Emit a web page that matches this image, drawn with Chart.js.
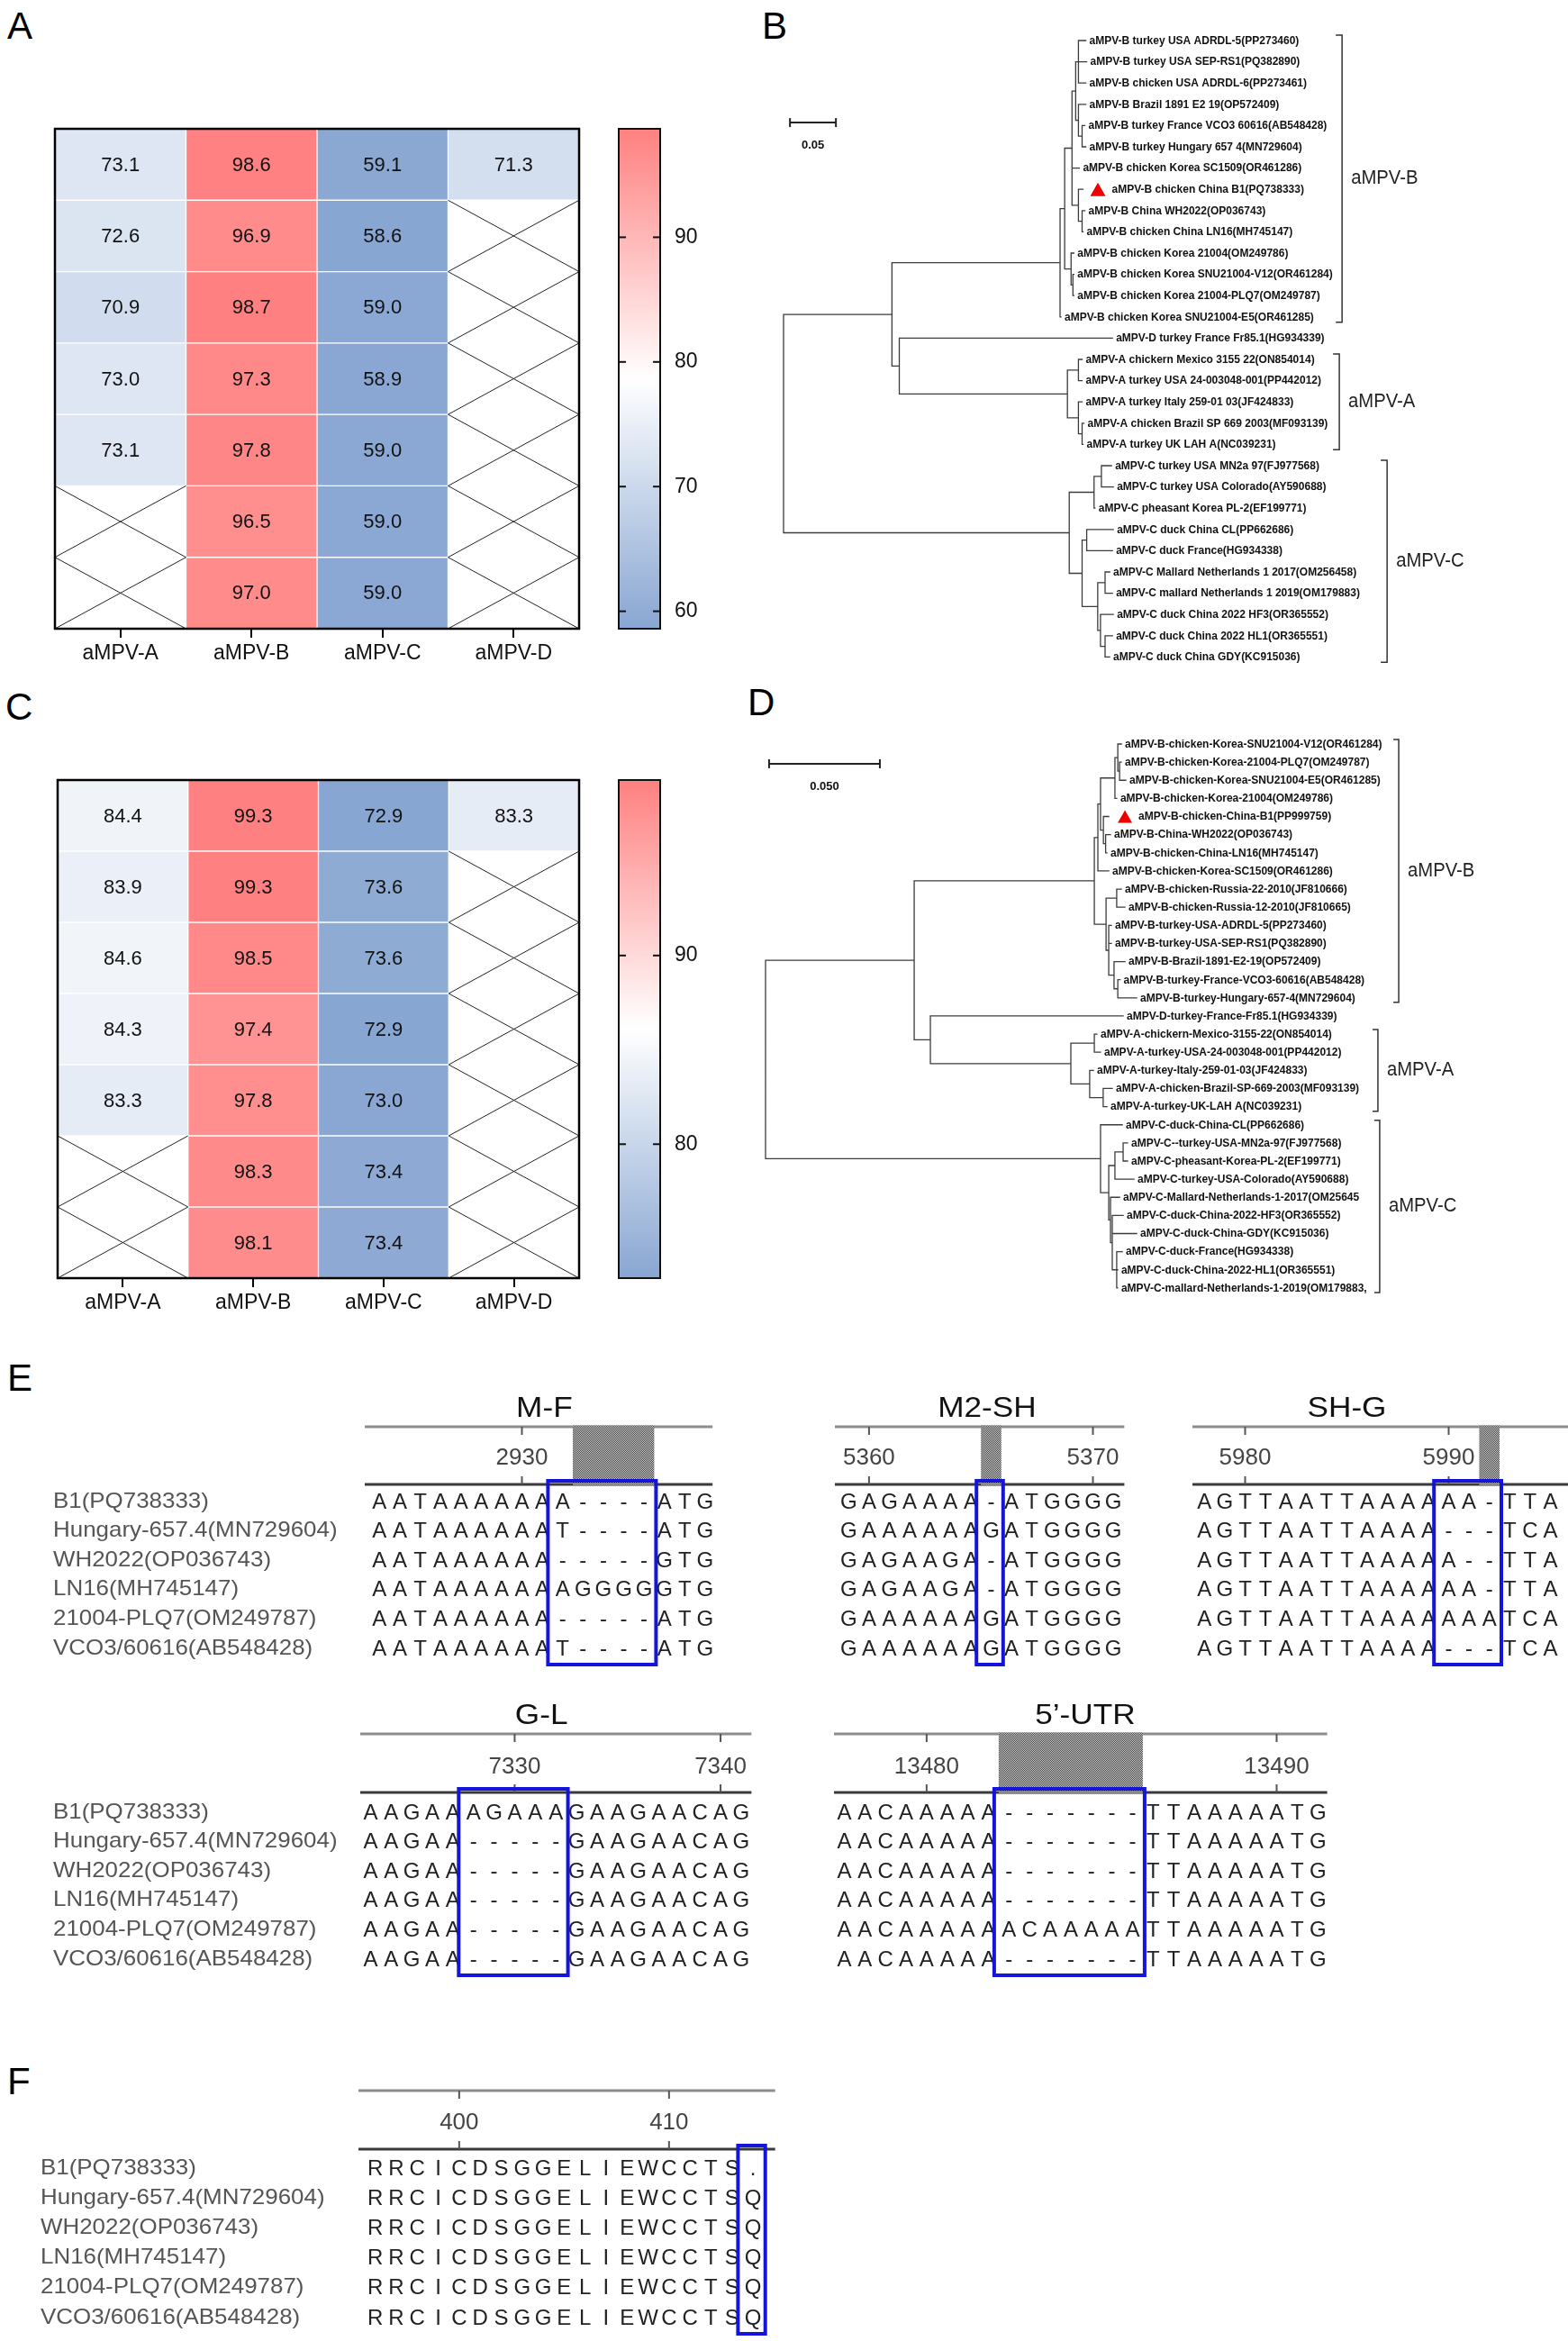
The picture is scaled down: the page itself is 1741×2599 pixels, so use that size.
<!DOCTYPE html>
<html>
<head>
<meta charset="utf-8">
<script src="https://cdn.jsdelivr.net/npm/chart.js@4.4.1/dist/chart.umd.min.js"></script>
<style>
  html, body { margin: 0; padding: 0; background: #fff; }
  #page { position: relative; width: 1741px; height: 2599px; overflow: hidden; font-family: 'Liberation Sans', Arial, sans-serif; }
  .box { position: absolute; }
  .tag { position: absolute; font-size: 42px; line-height: 1; color: #000; }
</style>
</head>
<body>
<div id="page">
  <div class="tag" style="left:8px;top:8px">A</div>
  <div class="tag" style="left:846px;top:8px">B</div>
  <div class="tag" style="left:6px;top:764px">C</div>
  <div class="tag" style="left:830px;top:759px">D</div>
  <div class="tag" style="left:8px;top:1509px">E</div>
  <div class="tag" style="left:8px;top:2290px">F</div>
</div>
<script>
const FONT = "'Liberation Sans', Arial, sans-serif";

// ---------- A / C : identity heatmaps (one array per column, rows top to bottom)
const hmCols = ['aMPV-A', 'aMPV-B', 'aMPV-C', 'aMPV-D'];
const aColA = [73.1, 72.6, 70.9, 73.0, 73.1, null, null];
const aColB = [98.6, 96.9, 98.7, 97.3, 97.8, 96.5, 97.0];
const aColC = [59.1, 58.6, 59.0, 58.9, 59.0, 59.0, 59.0];
const aColD = [71.3, null, null, null, null, null, null];
const aBarTicks = [60, 70, 80, 90];

const cColA = [84.4, 83.9, 84.6, 84.3, 83.3, null, null];
const cColB = [99.3, 99.3, 98.5, 97.4, 97.8, 98.3, 98.1];
const cColC = [72.9, 73.6, 73.6, 72.9, 73.0, 73.4, 73.4];
const cColD = [83.3, null, null, null, null, null, null];
const cBarTicks = [80, 90];

// ---------- B : tree (tips top to bottom, tip depth, nested nodes [depth, children...])
const bTips = [
  'aMPV-B turkey USA ADRDL-5(PP273460)', 'aMPV-B turkey USA SEP-RS1(PQ382890)',
  'aMPV-B chicken USA ADRDL-6(PP273461)', 'aMPV-B Brazil 1891 E2 19(OP572409)',
  'aMPV-B turkey France VCO3 60616(AB548428)', 'aMPV-B turkey Hungary 657 4(MN729604)',
  'aMPV-B chicken Korea SC1509(OR461286)', 'aMPV-B chicken China B1(PQ738333)',
  'aMPV-B China WH2022(OP036743)', 'aMPV-B chicken China LN16(MH745147)',
  'aMPV-B chicken Korea 21004(OM249786)', 'aMPV-B chicken Korea SNU21004-V12(OR461284)',
  'aMPV-B chicken Korea 21004-PLQ7(OM249787)', 'aMPV-B chicken Korea SNU21004-E5(OR461285)',
  'aMPV-D turkey France Fr85.1(HG934339)',
  'aMPV-A chickern Mexico 3155 22(ON854014)', 'aMPV-A turkey USA 24-003048-001(PP442012)',
  'aMPV-A turkey Italy 259-01 03(JF424833)', 'aMPV-A chicken Brazil SP 669 2003(MF093139)',
  'aMPV-A turkey UK LAH A(NC039231)',
  'aMPV-C turkey USA MN2a 97(FJ977568)', 'aMPV-C turkey USA Colorado(AY590688)',
  'aMPV-C pheasant Korea PL-2(EF199771)', 'aMPV-C duck China CL(PP662686)',
  'aMPV-C duck France(HG934338)', 'aMPV-C Mallard Netherlands 1 2017(OM256458)',
  'aMPV-C mallard Netherlands 1 2019(OM179883)', 'aMPV-C duck China 2022 HF3(OR365552)',
  'aMPV-C duck China 2022 HL1(OR365551)', 'aMPV-C duck China GDY(KC915036)'
];
const bTipX = [0.329, 0.330, 0.329, 0.329, 0.328, 0.329, 0.322, 0.326, 0.328, 0.326,
  0.316, 0.316, 0.316, 0.302, 0.358, 0.325, 0.325, 0.325, 0.327, 0.326,
  0.357, 0.359, 0.339, 0.359, 0.358, 0.355, 0.358, 0.359, 0.358, 0.355];
const treeB = [0,
  [0.118,
    [0.301,
      [0.306,
        [0.314, [0.318, [0.321, 0, 1, 2], [0.321, 3, [0.325, 4, 5]]], 6, [0.321, 7, [0.325, 8, 9]]],
        [0.313, 10, [0.315, 11, 12]]],
      13],
    [0.126, 14, [0.309, [0.321, 15, 16], [0.321, 17, [0.325, 18, 19]]]]],
  [0.311,
    [0.338, [0.346, 20, 21], 22],
    [0.325, [0.330, 23, 24], [0.342, [0.350, 25, 26], [0.345, 27, [0.350, 28, 29]]]]]];
const bClades = [['aMPV-B', 0, 13], ['aMPV-A', 15, 19], ['aMPV-C', 20, 29]];
const bMark = 7;

// ---------- D : tree
const dTips = [
  'aMPV-B-chicken-Korea-SNU21004-V12(OR461284)', 'aMPV-B-chicken-Korea-21004-PLQ7(OM249787)',
  'aMPV-B-chicken-Korea-SNU21004-E5(OR461285)', 'aMPV-B-chicken-Korea-21004(OM249786)',
  'aMPV-B-chicken-China-B1(PP999759)', 'aMPV-B-China-WH2022(OP036743)',
  'aMPV-B-chicken-China-LN16(MH745147)', 'aMPV-B-chicken-Korea-SC1509(OR461286)',
  'aMPV-B-chicken-Russia-22-2010(JF810666)', 'aMPV-B-chicken-Russia-12-2010(JF810665)',
  'aMPV-B-turkey-USA-ADRDL-5(PP273460)', 'aMPV-B-turkey-USA-SEP-RS1(PQ382890)',
  'aMPV-B-Brazil-1891-E2-19(OP572409)', 'aMPV-B-turkey-France-VCO3-60616(AB548428)',
  'aMPV-B-turkey-Hungary-657-4(MN729604)',
  'aMPV-D-turkey-France-Fr85.1(HG934339)',
  'aMPV-A-chickern-Mexico-3155-22(ON854014)', 'aMPV-A-turkey-USA-24-003048-001(PP442012)',
  'aMPV-A-turkey-Italy-259-01-03(JF424833)', 'aMPV-A-chicken-Brazil-SP-669-2003(MF093139)',
  'aMPV-A-turkey-UK-LAH A(NC039231)',
  'aMPV-C-duck-China-CL(PP662686)', 'aMPV-C--turkey-USA-MN2a-97(FJ977568)',
  'aMPV-C-pheasant-Korea-PL-2(EF199771)', 'aMPV-C-turkey-USA-Colorado(AY590688)',
  'aMPV-C-Mallard-Netherlands-1-2017(OM25645', 'aMPV-C-duck-China-2022-HF3(OR365552)',
  'aMPV-C-duck-China-GDY(KC915036)', 'aMPV-C-duck-France(HG934338)',
  'aMPV-C-duck-China-2022-HL1(OR365551)', 'aMPV-C-mallard-Netherlands-1-2019(OM179883,'
];
const dTipX = [0.1606, 0.1606, 0.1626, 0.1585, 0.1549, 0.1557, 0.1541, 0.1549, 0.1606, 0.1622,
  0.1561, 0.1561, 0.1622, 0.1600, 0.1675, 0.1614, 0.1496, 0.1512, 0.1480, 0.1565, 0.1541,
  0.1610, 0.1634, 0.1634, 0.1663, 0.1598, 0.1614, 0.1675, 0.1610, 0.1589, 0.1589];
const treeD = [0,
  [0.0671,
    [0.1484,
      [0.1500, [0.1512, [0.1577, [0.1590, 0, [0.1598, 1, 2]], 3], [0.1525, 4, [0.1535, 5, 6]]], 7],
      [0.1537, [0.1585, 8, 9], [0.1549, 10, 11, [0.1573, 12, [0.1590, 13, 14]]]]],
    [0.0744, 15, [0.1378, [0.1484, 16, 17], [0.1463, 18, [0.1524, 19, 20]]]]],
  [0.1512, 21, [0.1549, [0.1577, [0.1614, 22, 23], 24], [0.1557, 25, [0.1565, 26, 27, [0.1585, 28, 29, 30]]]]]];
const dClades = [['aMPV-B', 0, 14], ['aMPV-A', 16, 20], ['aMPV-C', 21, 30]];
const dMark = 4;

// ---------- E / F : alignments
const seqNames = ['B1(PQ738333)', 'Hungary-657.4(MN729604)', 'WH2022(OP036743)',
  'LN16(MH745147)', '21004-PLQ7(OM249787)', 'VCO3/60616(AB548428)'];

const mfSeqs = ['AATAAAAAAA----ATG', 'AATAAAAAAT----ATG', 'AATAAAAAA-----GTG',
  'AATAAAAAAAGGGGGTG', 'AATAAAAAA-----ATG', 'AATAAAAAAT----ATG'];
const mfTickCols = [7], mfTickPos = [2930], mfHatch = [10, 13], mfBox = [9, 13];

const m2Seqs = ['GAGAAAA-ATGGGG', 'GAAAAAAGATGGGG', 'GAGAAGA-ATGGGG',
  'GAGAAGA-ATGGGG', 'GAAAAAAGATGGGG', 'GAAAAAAGATGGGG'];
const m2TickCols = [1, 12], m2TickPos = [5360, 5370], m2Hatch = [7, 7], m2Box = [7, 7];

const shSeqs = ['AGTTAATTAAAAAA-TTA', 'AGTTAATTAAAA---TCA', 'AGTTAATTAAAAA--TTA',
  'AGTTAATTAAAAAA-TTA', 'AGTTAATTAAAAAAATCA', 'AGTTAATTAAAA---TCA'];
const shTickCols = [2, 12], shTickPos = [5980, 5990], shHatch = [14, 14], shBox = [12, 14];

const glSeqs = ['AAGAAAGAAAGAAGAACAG', 'AAGAA-----GAAGAACAG', 'AAGAA-----GAAGAACAG',
  'AAGAA-----GAAGAACAG', 'AAGAA-----GAAGAACAG', 'AAGAA-----GAAGAACAG'];
const glTickCols = [7, 17], glTickPos = [7330, 7340], glBox = [5, 9];

const utrSeqs = ['AACAAAAA-------TTAAAAATG', 'AACAAAAA-------TTAAAAATG', 'AACAAAAA-------TTAAAAATG',
  'AACAAAAA-------TTAAAAATG', 'AACAAAAAACAAAAATTAAAAATG', 'AACAAAAA-------TTAAAAATG'];
const utrTickCols = [4, 21], utrTickPos = [13480, 13490], utrHatch = [8, 14], utrBox = [8, 14];

const fSeqs = ['RRCICDSGGELIEWCCTS.', 'RRCICDSGGELIEWCCTSQ', 'RRCICDSGGELIEWCCTSQ',
  'RRCICDSGGELIEWCCTSQ', 'RRCICDSGGELIEWCCTSQ', 'RRCICDSGGELIEWCCTSQ'];
const fTickCols = [4, 14], fTickPos = [400, 410], fBox = [18, 18];

// ---------- helpers
function mkCanvas(left, top, w, h) {
  const d = document.createElement('div');
  d.className = 'box';
  d.style.cssText = `left:${left}px;top:${top}px;width:${w}px;height:${h}px`;
  const c = document.createElement('canvas');
  d.appendChild(c);
  document.getElementById('page').appendChild(d);
  return c;
}

const LOW = [136, 166, 210], HIGH = [255, 128, 128];
function heatColor(v, lo, hi) {
  const mid = (lo + hi) / 2;
  const end = v >= mid ? HIGH : LOW;
  const t = v >= mid ? (v - mid) / (hi - mid) : (mid - v) / (mid - lo);
  const c = end.map(e => Math.round(255 + (e - 255) * t));
  return `rgb(${c.join(',')})`;
}

function line(ctx, x0, y0, x1, y1) {
  ctx.beginPath(); ctx.moveTo(x0, y0); ctx.lineTo(x1, y1); ctx.stroke();
}

function wideText(ctx, txt, x, y, sx, align) {
  ctx.save();
  ctx.translate(x, y);
  ctx.scale(sx, 1);
  ctx.textAlign = align || 'left';
  ctx.fillText(txt, 0, 0);
  ctx.restore();
}

const baseOpts = {
  responsive: true, maintainAspectRatio: false, animation: false, events: [],
  plugins: { legend: { display: false }, tooltip: { enabled: false } }
};

// ---------- heatmap
const heatPlugin = {
  id: 'heatcells',
  afterDatasetsDraw(chart) {
    const { ctx, chartArea: a, scales: { x, y } } = chart;
    const half = (x.getPixelForValue(1) - x.getPixelForValue(0)) / 2;
    ctx.save();
    ctx.font = `22px ${FONT}`;
    ctx.textAlign = 'center';
    ctx.textBaseline = 'middle';
    chart.data.datasets.forEach((ds, r) => {
      ds.vals.forEach((v, i) => {
        const cx = x.getPixelForValue(i);
        const y0 = y.getPixelForValue(r), y1 = y.getPixelForValue(r + 1);
        if (v == null) {
          ctx.strokeStyle = '#222'; ctx.lineWidth = 1;
          line(ctx, cx - half, y0, cx + half, y1);
          line(ctx, cx + half, y0, cx - half, y1);
        } else {
          ctx.fillStyle = '#111';
          ctx.fillText(v.toFixed(1), cx, (y0 + y1) / 2 + 1);
        }
      });
    });
    ctx.strokeStyle = '#000'; ctx.lineWidth = 2.5;
    ctx.strokeRect(a.left, a.top, a.width, a.height);
    ctx.restore();
  }
};

function heatmap(canvas, cols, lo, hi) {
  const nRows = cols[0].length;
  const datasets = [];
  for (let r = 0; r < nRows; r++) {
    const vals = cols.map(c => c[r]);
    datasets.push({
      data: vals.map(v => (v == null ? null : [r, r + 1])),
      vals,
      backgroundColor: vals.map(v => (v == null ? 'rgba(0,0,0,0)' : heatColor(v, lo, hi))),
      borderColor: '#ffffff', borderWidth: 1, borderSkipped: false,
      barPercentage: 1, categoryPercentage: 1, grouped: false
    });
  }
  return new Chart(canvas, {
    type: 'bar',
    data: { labels: hmCols, datasets },
    options: {
      ...baseOpts,
      layout: { padding: { left: 10, right: 10, top: 10, bottom: 0 } },
      scales: {
        x: {
          grid: { offset: false, drawOnChartArea: false, color: '#000', lineWidth: 2, tickLength: 10 },
          border: { display: false },
          ticks: { color: '#111', font: { family: FONT, size: 23 }, padding: 4 },
          afterFit: s => { s.height = 60; }
        },
        y: { display: false, min: 0, max: nRows, reverse: true }
      }
    },
    plugins: [heatPlugin]
  });
}

const barPlugin = {
  id: 'barframe',
  afterDatasetsDraw(chart) {
    const { ctx, chartArea: a, scales: { y } } = chart;
    ctx.save();
    ctx.strokeStyle = '#111'; ctx.lineWidth = 2;
    y.ticks.forEach(t => {
      const py = y.getPixelForValue(t.value);
      line(ctx, a.left, py, a.left + 8, py);
      line(ctx, a.right - 8, py, a.right, py);
    });
    ctx.strokeRect(a.left, a.top, a.width, a.height);
    ctx.restore();
  }
};

function colorbar(canvas, lo, hi, ticks) {
  return new Chart(canvas, {
    type: 'bar',
    data: {
      labels: [''],
      datasets: [{
        data: [[lo, hi]],
        backgroundColor: c => {
          const ch = c.chart, y = ch.scales.y;
          if (!ch.chartArea || !y) return '#fff';
          const g = ch.ctx.createLinearGradient(0, y.getPixelForValue(lo), 0, y.getPixelForValue(hi));
          g.addColorStop(0, heatColor(lo, lo, hi));
          g.addColorStop(0.5, '#ffffff');
          g.addColorStop(1, heatColor(hi, lo, hi));
          return g;
        },
        borderWidth: 0, barPercentage: 1, categoryPercentage: 1
      }]
    },
    options: {
      ...baseOpts,
      layout: { padding: { left: 10, right: 0, top: 10, bottom: 10 } },
      scales: {
        x: { display: false },
        y: {
          position: 'right', min: lo, max: hi,
          afterBuildTicks: s => { s.ticks = ticks.map(v => ({ value: v })); },
          grid: { display: false }, border: { display: false },
          ticks: { color: '#111', font: { family: FONT, size: 23 }, padding: 8 },
          afterFit: s => { s.width = 70; s.paddingTop = 0; s.paddingBottom = 0; }
        }
      }
    },
    plugins: [barPlugin]
  });
}

function range(cols) {
  const v = [].concat(...cols).filter(d => d != null);
  return [Math.min(...v), Math.max(...v)];
}

const aCols = [aColA, aColB, aColC, aColD];
const [aLo, aHi] = range(aCols);
heatmap(mkCanvas(51, 133, 602, 625), aCols, aLo, aHi);
colorbar(mkCanvas(677, 133, 126, 575), aLo, aHi, aBarTicks);

const cCols = [cColA, cColB, cColC, cColD];
const [cLo, cHi] = range(cCols);
heatmap(mkCanvas(54, 856, 599, 623), cCols, cLo, cHi);
colorbar(mkCanvas(677, 856, 126, 573), cLo, cHi, cBarTicks);

// ---------- trees
function treePlugin(tips, clades, mark, st) {
  return {
    id: 'treelabels',
    afterDatasetsDraw(chart) {
      const { ctx, scales: { x, y } } = chart;
      const pts = chart.getDatasetMeta(1).data;
      ctx.save();
      ctx.textBaseline = 'middle';
      ctx.font = `bold ${st.labelSize}px ${FONT}`;
      pts.forEach((pt, i) => {
        let lx = pt.x + 4;
        if (i === mark) {
          const t0 = pt.x + st.triGap;
          ctx.fillStyle = '#ee0000';
          ctx.beginPath();
          ctx.moveTo(t0, pt.y + st.triH / 2);
          ctx.lineTo(t0 + st.triW, pt.y + st.triH / 2);
          ctx.lineTo(t0 + st.triW / 2, pt.y - st.triH / 2);
          ctx.closePath();
          ctx.fill();
          lx = pt.x + st.markGap;
        }
        ctx.fillStyle = '#111';
        wideText(ctx, tips[i], lx, pt.y + 0.5, st.labelSx);
      });
      // clade brackets
      ctx.strokeStyle = '#333'; ctx.lineWidth = 1.5;
      ctx.font = `22px ${FONT}`;
      clades.forEach((cl, k) => {
        const bx = x.getPixelForValue(st.bracketX[k]);
        const y0 = y.getPixelForValue(cl[1] - st.bracketPad);
        const y1 = y.getPixelForValue(cl[2] + st.bracketPad);
        ctx.beginPath();
        ctx.moveTo(bx - st.bracketTick, y0); ctx.lineTo(bx, y0); ctx.lineTo(bx, y1); ctx.lineTo(bx - st.bracketTick, y1);
        ctx.stroke();
        ctx.fillStyle = '#222';
        wideText(ctx, cl[0], bx + 10, (y0 + y1) / 2, 0.92);
      });
      // scale bar
      const sx0 = x.getPixelForValue(st.sbX), sx1 = x.getPixelForValue(st.sbX + st.sbLen);
      const sy = y.getPixelForValue(st.sbRow);
      ctx.strokeStyle = '#222'; ctx.lineWidth = 2;
      line(ctx, sx0, sy, sx1, sy);
      line(ctx, sx0, sy - 5, sx0, sy + 5);
      line(ctx, sx1, sy - 5, sx1, sy + 5);
      ctx.fillStyle = '#111';
      ctx.font = `bold 13px ${FONT}`;
      ctx.textAlign = 'center';
      ctx.fillText(st.sbText, (sx0 + sx1) / 2, sy + 25);
      ctx.restore();
    }
  };
}

function treeChart(canvas, tree, tips, tipX, clades, mark, st) {
  const segs = [];
  const gap = { x: NaN, y: NaN };
  const place = node => {
    if (typeof node === 'number') return { x: tipX[node], y: node };
    const [nx, ...kids] = node;
    const ps = kids.map(place);
    const y0 = ps[0].y, y1 = ps[ps.length - 1].y;
    segs.push({ x: nx, y: y0 }, { x: nx, y: y1 }, gap);
    ps.forEach(p => segs.push({ x: nx, y: p.y }, { x: p.x, y: p.y }, gap));
    return { x: nx, y: (y0 + y1) / 2 };
  };
  place(tree);
  const xmin = (st.left - st.rootPx) / st.ppu;
  const ymin = (st.top - st.tip0) / st.dy;
  return new Chart(canvas, {
    type: 'scatter',
    data: {
      datasets: [
        { data: segs, showLine: true, spanGaps: false, borderColor: '#3c3c3c', borderWidth: 1.3,
          borderCapStyle: 'square', pointRadius: 0 },
        { data: tipX.map((v, i) => ({ x: v, y: i })), pointRadius: 0 }
      ]
    },
    options: {
      ...baseOpts,
      layout: { padding: 0 },
      scales: {
        x: { type: 'linear', display: false, min: xmin, max: xmin + st.w / st.ppu },
        y: { type: 'linear', display: false, reverse: true, min: ymin, max: ymin + st.h / st.dy }
      }
    },
    plugins: [treePlugin(tips, clades, mark, st)]
  });
}

const bStyle = { left: 860, top: 0, w: 881, h: 770, rootPx: 870, ppu: 1020, tip0: 45, dy: 23.6,
  labelSize: 12, labelSx: 1.0, triGap: 8, triW: 17, triH: 15, markGap: 32,
  bracketX: [0.608, 0.605, 0.657], bracketPad: 0.25, bracketTick: 7,
  sbX: 0.007, sbLen: 0.05, sbRow: 3.86, sbText: '0.05' };
treeChart(mkCanvas(bStyle.left, bStyle.top, bStyle.w, bStyle.h), treeB, bTips, bTipX, bClades, bMark, bStyle);

const dStyle = { left: 830, top: 760, w: 911, h: 700, rootPx: 850, ppu: 2460, tip0: 826, dy: 20.13,
  labelSize: 12, labelSx: 1.0, triGap: 10, triW: 16, triH: 14, markGap: 33,
  bracketX: [0.2858, 0.2764, 0.2772], bracketPad: 0.25, bracketTick: 6,
  sbX: 0.0016, sbLen: 0.05, sbRow: 1.09, sbText: '0.050' };
treeChart(mkCanvas(dStyle.left, dStyle.top, dStyle.w, dStyle.h), treeD, dTips, dTipX, dClades, dMark, dStyle);

// ---------- alignments
let hatchFill = null;
function hatch(ctx) {
  if (!hatchFill) {
    const pc = document.createElement('canvas');
    pc.width = 2; pc.height = 2;
    const p = pc.getContext('2d');
    p.fillStyle = '#d6d6d6'; p.fillRect(0, 0, 2, 2);
    p.fillStyle = '#3c3c3c'; p.fillRect(0, 0, 1, 1); p.fillRect(1, 1, 1, 1);
    hatchFill = ctx.createPattern(pc, 'repeat');
  }
  return hatchFill;
}

function alignPlugin(al, st) {
  return {
    id: 'alignment',
    afterDatasetsDraw(chart) {
      const { ctx, scales: { x, y } } = chart;
      const base = y.getPixelForValue(0);
      const nCols = Math.max(...al.seqs.map(s => s.length));
      const left = x.getPixelForValue(-0.5) + st.rl;
      const right = x.getPixelForValue(nCols - 0.5) + st.rr;
      const top = base + st.rTop, bot = base + st.rBot;
      ctx.save();
      ctx.lineWidth = 3;
      ctx.strokeStyle = '#8c8c8c'; line(ctx, left, top, right, top);
      ctx.strokeStyle = '#3a3a3a'; line(ctx, left, bot, right, bot);
      if (al.hatch) {
        const h0 = x.getPixelForValue(al.hatch[0] - 0.5), h1 = x.getPixelForValue(al.hatch[1] + 0.5);
        ctx.fillStyle = hatch(ctx);
        ctx.fillRect(h0, top - 1.5, h1 - h0, bot - top + 3);
      }
      ctx.lineWidth = 2; ctx.strokeStyle = '#555';
      ctx.font = `26px ${FONT}`; ctx.fillStyle = '#444';
      ctx.textAlign = 'center'; ctx.textBaseline = 'middle';
      al.tickCols.forEach((c, i) => {
        const px = x.getPixelForValue(c);
        line(ctx, px, top, px, top + 9);
        line(ctx, px, bot - 9, px, bot);
        ctx.fillText(String(al.tickPos[i]), px, base + st.lab);
      });
      if (st.title) {
        ctx.fillStyle = '#111'; ctx.font = `32px ${FONT}`;
        wideText(ctx, st.title, x.getPixelForValue(st.titleCol), base + st.titleOff, 1.1, 'center');
      }
      if (st.names) {
        ctx.fillStyle = '#555'; ctx.font = `24px ${FONT}`;
        seqNames.forEach((n, r) => wideText(ctx, n, st.nameX - chart.canvas.parentNode.offsetLeft, y.getPixelForValue(r), 1.08));
      }
      ctx.fillStyle = '#222'; ctx.font = `24px ${FONT}`; ctx.textAlign = 'center';
      const meta = chart.getDatasetMeta(0);
      const pts = chart.data.datasets[0].data;
      meta.data.forEach((el, i) => ctx.fillText(pts[i].ch, el.x, el.y + 1));
      const b0 = x.getPixelForValue(al.box[0] - 0.5) - 5, b1 = x.getPixelForValue(al.box[1] + 0.5) + 2;
      const by1 = y.getPixelForValue(al.seqs.length - 1) + 18;
      ctx.strokeStyle = '#1414dc'; ctx.lineWidth = 4;
      ctx.strokeRect(b0, bot - 4, b1 - b0, by1 - bot + 4);
      ctx.restore();
    }
  };
}

function alignChart(al, st) {
  const canvas = mkCanvas(st.left, st.top, st.w, st.h);
  const pts = [];
  al.seqs.forEach((s, r) => [...s].forEach((ch, c) => pts.push({ x: c, y: r, ch })));
  const xmin = (st.left - st.seqX) / st.pitch - 0.5;
  const ymin = (st.top - st.row0) / st.dy;
  return new Chart(canvas, {
    type: 'scatter',
    data: { datasets: [{ data: pts, pointRadius: 0 }] },
    options: {
      ...baseOpts,
      layout: { padding: 0 },
      scales: {
        x: { type: 'linear', display: false, min: xmin, max: xmin + st.w / st.pitch },
        y: { type: 'linear', display: false, reverse: true, min: ymin, max: ymin + st.h / st.dy }
      }
    },
    plugins: [alignPlugin(al, st)]
  });
}

const row1 = { top: 1530, h: 330, row0: 1667, dy: 32.6, rTop: -83, rBot: -19, lab: -48, titleOff: -103, pitch: 22.6 };
const row2 = { top: 1870, h: 335, row0: 2012, dy: 32.6, rTop: -87, rBot: -22, lab: -50, titleOff: -107, pitch: 22.86 };

alignChart({ seqs: mfSeqs, tickCols: mfTickCols, tickPos: mfTickPos, hatch: mfHatch, box: mfBox },
  { ...row1, left: 40, w: 810, seqX: 410, title: 'M-F', titleCol: 8.1, rl: -5, rr: -3, names: true, nameX: 59 });
alignChart({ seqs: m2Seqs, tickCols: m2TickCols, tickPos: m2TickPos, hatch: m2Hatch, box: m2Box },
  { ...row1, left: 900, w: 360, seqX: 931, title: 'M2-SH', titleCol: 6.8, rl: -4, rr: 1, names: false });
alignChart({ seqs: shSeqs, tickCols: shTickCols, tickPos: shTickPos, hatch: shHatch, box: shBox },
  { ...row1, left: 1300, w: 441, seqX: 1326, title: 'SH-G', titleCol: 7.0, rl: -2, rr: 10, names: false });
alignChart({ seqs: glSeqs, tickCols: glTickCols, tickPos: glTickPos, hatch: null, box: glBox },
  { ...row2, left: 40, w: 810, seqX: 400, title: 'G-L', titleCol: 8.3, rl: 0, rr: 0, names: true, nameX: 59 });
alignChart({ seqs: utrSeqs, tickCols: utrTickCols, tickPos: utrTickPos, hatch: utrHatch, box: utrBox },
  { ...row2, left: 900, w: 600, seqX: 926, title: '5\u2019-UTR', titleCol: 11.7, rl: 0, rr: -1, names: false });
alignChart({ seqs: fSeqs, tickCols: fTickCols, tickPos: fTickPos, hatch: null, box: fBox },
  { top: 2300, h: 299, row0: 2407, dy: 33.2, rTop: -86, rBot: -21, lab: -50, pitch: 23.3,
    left: 30, w: 850, seqX: 405, title: null, rl: -7, rr: 13, names: true, nameX: 45 });
</script>
</body>
</html>
